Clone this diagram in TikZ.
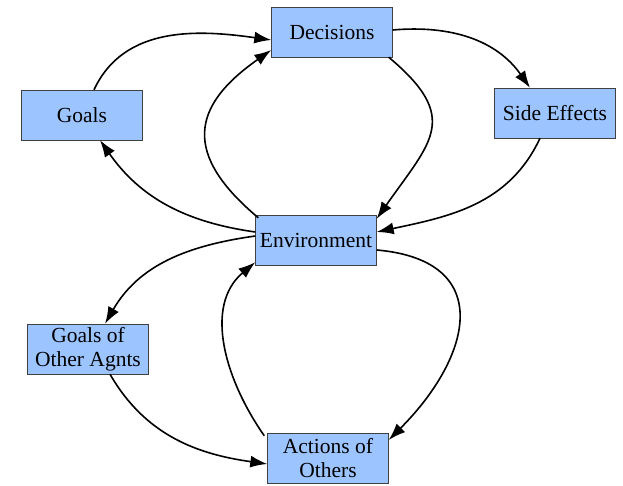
\documentclass[tikz,border=0pt]{standalone}
\usepackage{fontspec}
\setmainfont{Liberation Serif}
\usetikzlibrary{shapes,arrows,arrows.meta}
\definecolor{boxblue}{RGB}{156,196,255}
\tikzstyle{state} = [draw=black!75, rectangle, fill=boxblue, text centered, align=center, minimum width=121pt, minimum height=50pt, inner sep=2pt, font=\rmfamily\fontsize{21.5}{24}\selectfont]
\tikzstyle{line} = [draw, line width=1.6pt, -{Latex[length=17pt,width=12pt]}]

\begin{document}
\begin{tikzpicture}[x=1pt, y=1pt]
    \useasboundingbox (0,0) rectangle (623,486);
    % Place nodes
    \node [state] (decisions) at (332,454) {Decisions};
    \node [state] (goals) at (82,371) {Goals};
    \node [state] (side-effects) at (555,373) {Side Effects};
    \node [state] (environment) at (316,246) {Environment};
    \node [state] (other-goals) at (88,137) {Goals of\\Other Agnts};
    \node [state] (others-actions) at (328,28) {Actions of\\Others};
    % Draw edges
    \path [line] ([xshift=12pt]goals.north) to[out=65,in=172] ([yshift=-8pt]decisions.west);
    \path [line] ([yshift=2pt]decisions.east) to[out=5,in=125] ([xshift=-25pt]side-effects.north);
    \path [line] ([xshift=-15pt]side-effects.south) to[out=-115,in=12] ([yshift=8pt]environment.east);
    \path [line] ([xshift=-4pt]decisions.south east) to[out=-40,in=55,looseness=1.5] ([yshift=-4pt]environment.north east);
    \path [line] ([xshift=3pt,yshift=-3pt]environment.north west) to[out=140,in=-145,looseness=1.5] ([yshift=-18pt]decisions.west);
    \path [line] ([yshift=8pt]environment.west) to[out=172,in=-55] ([xshift=18pt]goals.south);
    \path [line] ([yshift=4pt]environment.west) to[out=188,in=60] ([xshift=17pt]other-goals.north);
    \path [line] ([xshift=22pt]other-goals.south) to[out=-60,in=172] ([yshift=-6pt]others-actions.west);
    \path [line] ([xshift=-3pt,yshift=-3pt]others-actions.north west) to[out=125,in=-140] ([yshift=3pt]environment.south west);
    \path [line] ([yshift=-10pt]environment.east) to[out=-5,in=45,looseness=1.6] ([yshift=18pt]others-actions.east);
\end{tikzpicture}
\end{document}
